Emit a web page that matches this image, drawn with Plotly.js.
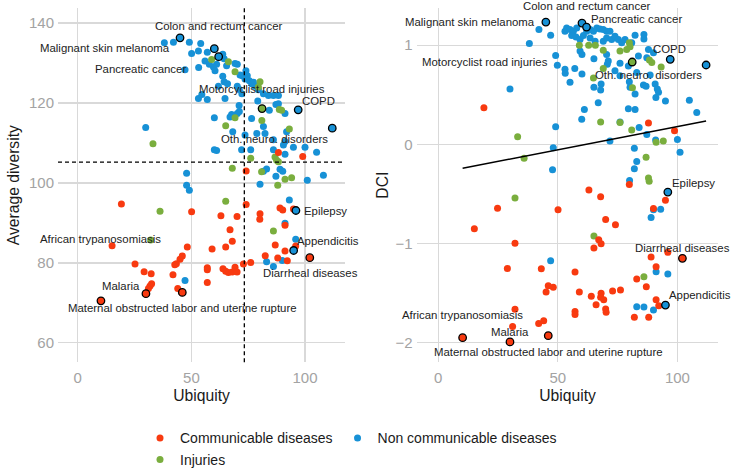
<!DOCTYPE html>
<html>
<head>
<meta charset="utf-8">
<script src="https://cdn.plot.ly/plotly-3.0.1.min.js"></script>
<style>
html,body{margin:0;padding:0;background:#fff;}
#chart{width:733px;height:476px;}
</style>
</head>
<body>
<div id="chart"></div>
<script>
// ---------------- DATA ----------------
// Left panel: Ubiquity vs Average diversity
const commUbiqDiv = [88.3,99.0,74.1,19.2,50.1,74.1,63.0,70.1,80.2,80.1,89.0,90.2,94.9,91.2,67.0,68.0,15.1,95.9,86.9,91.2,48.2,46.0,45.0,43.4,42.7,59.1,65.1,25.2,29.2,32.3,32.5,31.8,31.1,41.9,44.0,57.0,57.0,57.0,63.9,65.1,66.3,68.0,69.2,70.1,72.9,76.1,82.5,88.0,92.2];
const commDiv = [107.6,106.6,103.0,94.7,92.8,94.6,91.8,91.6,92.3,90.9,93.7,93.2,93.5,89.4,88.3,85.4,84.3,84.2,84.5,83.0,84.0,81.7,80.9,79.8,79.5,83.5,84.0,79.7,77.8,77.3,74.8,74.2,73.6,77.0,73.6,78.8,78.3,75.1,78.5,77.9,77.6,77.7,78.9,77.7,79.7,80.1,81.8,81.2,80.5];

const injUbiqDiv = [58.9,66.3,69.2,80.2,79.5,69.2,65.1,81.0,88.7,89.7,93.1,33.1,76.1,86.8,87.5,88.3,68.0,80.9,88.0,91.2,94.1,36.2,65.1,86.1,32.1];
const injDiv = [130.9,130.3,127.8,125.3,124.0,116.3,114.3,115.6,118.4,118.2,113.5,109.8,106.2,106.5,105.7,105.3,103.7,102.8,99.4,100.9,101.3,92.9,95.4,88.0,85.7];

const ncdUbiqDiv = [38.1,42.1,49.1,54.1,50.1,53.1,57.0,47.2,53.2,56.0,57.9,59.7,60.4,61.1,63.8,64.4,69.2,70.2,63.8,64.4,65.9,71.4,74.0,74.6,75.5,76.5,78.0,61.9,70.2,71.1,81.7,83.9,86.1,88.3,53.1,57.0,54.6,79.2,84.3,87.2,91.2,71.0,71.1,70.2,67.7,67.0,60.1,76.5,68.2,73.6,81.7,82.4,78.8,91.9,91.2,90.5,86.1,29.9,60.1,61.1,72.1,76.1,86.1,91.2,94.9,100.0,105.1,83.1,89.0,90.2,87.2,81.7,47.9,47.9,49.1,80.2,101.0,108.1,93.1,91.2,95.9,47.2,83.1,90.0,86.1,72.4,73.6,77.3,79.5,72.2,64.8,88.3,65.5];
const ncdDiv = [135.1,135.2,135.2,134.9,132.4,133.0,132.7,128.3,128.9,130.5,129.7,129.0,128.1,129.7,132.2,131.1,129.9,129.7,126.7,125.3,124.8,127.0,128.1,126.8,125.6,124.8,124.2,124.2,124.2,123.4,122.3,121.9,121.9,121.9,121.1,120.9,122.1,120.5,118.2,119.6,117.4,119.4,117.9,117.4,117.1,116.5,116.3,116.1,112.8,112.0,114.1,112.4,112.4,112.8,110.4,109.5,110.8,113.9,108.3,108.1,108.3,108.3,108.3,107.2,108.9,108.9,107.7,103.5,103.4,102.9,101.7,102.9,102.4,99.4,98.2,99.7,100.7,101.9,95.7,89.9,85.9,75.6,80.3,80.6,79.1,126.8,126.0,125.2,123.3,122.3,121.1,119.8,129.3];

// Right panel: Ubiquity vs DCI
const commUbiqDci = [19.1,87.9,98.8,79.9,63.0,67.9,95.0,90.0,24.8,50.1,15.1,70.0,74.1,32.1,67.1,68.1,65.1,96.0,89.0,28.9,43.1,57.2,91.1,83.0,87.0,46.0,48.1,45.1,59.0,64.0,68.1,67.9,69.2,72.9,76.2,66.0,70.0,70.2,91.1,92.2,32.1,57.2,57.2,42.0,44.1,31.1,82.0,88.0];
const commDci = [0.369,0.216,0.136,-0.406,-0.462,-0.529,-0.565,-0.648,-0.645,-0.661,-0.851,-0.758,-0.811,-0.997,-0.964,-1.004,-1.047,-1.090,-1.137,-1.253,-1.256,-1.289,-1.236,-1.359,-1.436,-1.426,-1.442,-1.489,-1.489,-1.532,-1.502,-1.542,-1.569,-1.479,-1.469,-1.619,-1.662,-1.695,-1.569,-1.628,-1.665,-1.688,-1.718,-1.808,-1.781,-1.838,-1.745,-1.745];

const injUbiqDci = [59.0,62.9,65.7,69.0,76.0,78.8,79.9,80.2,88.3,89.3,93.2,64.9,69.0,81.2,67.9,76.0,80.9,33.2,91.1,94.1,35.9,86.9,87.9,88.2,32.1,65.1,86.0];
const injDci = [1.000,1.000,1.000,0.950,0.940,0.957,1.024,0.983,0.851,0.824,0.781,0.668,0.764,0.571,0.226,0.219,0.143,0.076,0.020,0.033,-0.140,-0.130,-0.339,-0.372,-0.542,-0.924,-1.336];

const ncdUbiqDci = [42.1,47.0,38.1,53.0,53.7,55.1,56.5,57.9,62.1,63.5,64.9,66.3,67.6,69.0,70.4,71.8,55.8,57.6,59.3,60.7,63.5,65.6,69.0,70.4,72.5,73.9,75.3,76.7,78.1,80.9,82.3,86.0,86.0,59.3,60.1,65.1,70.4,71.1,70.7,76.0,73.9,79.5,87.9,90.0,87.2,49.1,49.8,53.0,53.1,57.1,60.1,55.1,65.1,68.1,67.9,66.9,61.1,60.0,76.0,79.9,80.2,82.3,85.8,88.6,90.7,91.6,92.1,91.0,95.0,105.0,108.1,30.0,79.5,82.3,76.0,49.1,84.0,87.2,71.8,90.9,100.0,101.1,48.1,82.0,83.0,82.0,47.8,80.0,90.0,93.0,89.0,47.0,91.1,96.0,83.0,86.0,90.0,83.0,83.7,86.9];
const ncdDci = [1.157,1.100,1.017,1.140,1.173,1.157,1.140,1.173,1.140,1.157,1.140,1.173,1.163,1.157,1.140,1.140,1.097,1.083,1.057,1.097,1.073,1.040,1.040,1.073,1.057,1.090,1.057,1.024,1.057,1.024,1.100,1.107,1.063,0.940,0.907,0.864,0.907,0.841,0.808,0.817,0.741,0.791,0.957,0.924,0.874,0.897,0.797,0.757,0.717,0.764,0.708,0.625,0.575,0.608,0.548,0.418,0.352,0.253,0.691,0.631,0.575,0.508,0.598,0.698,0.608,0.558,0.525,0.472,0.438,0.445,0.322,0.558,0.359,0.352,0.226,0.176,0.170,0.100,0.033,0.043,0.049,-0.080,-0.034,-0.040,-0.173,-0.246,-0.256,-0.366,-0.661,-0.655,-0.738,-1.176,-1.286,-1.309,-1.638,-1.642,-1.672,0.725,0.890,0.585];

// Highlighted (labelled) diseases
const labelNames = ["Colon and rectum cancer","Malignant skin melanoma","Pancreatic cancer","Motorcyclist road injuries","COPD","Oth. neuro. disorders","Epilepsy","Appendicitis","Diarrheal diseases","Malaria","Maternal obstructed labor and uterine rupture","African trypanosomiasis"];
const labelGroups = ["ncd","ncd","ncd","inj","ncd","ncd","ncd","ncd","comm","comm","comm","comm"];
const labelUbiq = [60.1,45.0,62.0,81.1,97.0,112.0,96.0,95.0,102.1,30.0,46.0,10.2];
const labelDiv = [133.6,136.3,131.6,118.6,118.3,113.7,93.1,83.1,81.3,72.3,72.6,70.5];
const labelDci = [1.223,1.233,1.183,0.830,0.857,0.800,-0.482,-1.622,-1.150,-1.994,-1.931,-1.951];

// Reference lines
const ubiqThreshold = 73.3;
const divThreshold = 105.2;
const trendX = [10.2, 112.0];
const trendY = [-0.242, 0.236];

// Tick values
const xTicks = [0, 50, 100];
const divTicks = [60, 80, 100, 120, 140];
const dciTicks = [-2, -1, 0, 1];

// ---------------- STYLE / LAYOUT ----------------
const colors = {comm: "#f83a10", ncd: "#1791d6", inj: "#7aae3e"};
const groupLabel = {comm: "Communicable diseases", ncd: "Non communicable diseases", inj: "Injuries"};
const FONT = "'Liberation Sans', Arial, Helvetica, sans-serif";
const MS = 7;

const divRange = [55.1, 143.8];
const dciRange = [-2.2, 1.376];

// label text positions (data coordinates of each panel) [x, y, extra pixel shift up]
const labelPosDiv = {
  "Colon and rectum cancer": [62.0, 139.2, 0],
  "Malignant skin melanoma": [12.2, 133.8, 0],
  "Pancreatic cancer": [27.8, 128.5, 0],
  "Motorcyclist road injuries": [81.1, 123.4, 0],
  "COPD": [106.0, 120.6, 0],
  "Oth. neuro. disorders": [86.7, 111.0, 0],
  "Epilepsy": [108.8, 92.9, 0],
  "Appendicitis": [110.3, 85.5, 0],
  "African trypanosomiasis": [10.1, 86.0, 0],
  "Diarrheal diseases": [102.2, 77.4, 0],
  "Malaria": [19.2, 74.1, 0],
  "Maternal obstructed labor and uterine rupture": [46.2, 68.8, 0]
};
const labelPosDci = {
  "Colon and rectum cancer": [62.1, 1.36, 3.5],
  "Pancreatic cancer": [82.7, 1.262, 0],
  "Malignant skin melanoma": [13.1, 1.229, 0],
  "COPD": [96.9, 0.964, 0],
  "Motorcyclist road injuries": [19.7, 0.831, 0],
  "Oth. neuro. disorders": [88.0, 0.698, 0],
  "Epilepsy": [106.6, -0.389, 0],
  "Diarrheal diseases": [102.0, -1.044, 0],
  "Appendicitis": [109.4, -1.525, 0],
  "African trypanosomiasis": [10.0, -1.725, 0],
  "Malaria": [30.1, -1.891, 0],
  "Maternal obstructed labor and uterine rupture": [46.2, -2.091, 0]
};

function pts(x, y, key, xa, ya, showLeg, legendName, rank) {
  return {
    type: "scatter", mode: "markers", x: x, y: y,
    xaxis: xa, yaxis: ya,
    name: groupLabel[key], legendgroup: key,
    showlegend: showLeg, legend: legendName, legendrank: rank,
    marker: {color: colors[key], size: MS},
    hoverinfo: "x+y"
  };
}

const traces = [
  pts(ncdUbiqDiv, ncdDiv, "ncd", "x", "y", true, "legend", 2),
  pts(injUbiqDiv, injDiv, "inj", "x", "y", true, "legend2", 3),
  pts(commUbiqDiv, commDiv, "comm", "x", "y", true, "legend", 1),
  pts(ncdUbiqDci, ncdDci, "ncd", "x2", "y2", false, "legend", 2),
  pts(injUbiqDci, injDci, "inj", "x2", "y2", false, "legend2", 3),
  pts(commUbiqDci, commDci, "comm", "x2", "y2", false, "legend", 1),
  {
    type: "scatter", mode: "lines", x: trendX, y: trendY, xaxis: "x2", yaxis: "y2",
    line: {color: "#000", width: 1.5}, showlegend: false, hoverinfo: "skip"
  },
  {
    type: "scatter", mode: "markers", x: labelUbiq, y: labelDiv, xaxis: "x", yaxis: "y",
    text: labelNames, showlegend: false,
    marker: {color: labelGroups.map(g => colors[g]), size: MS + 0.5, line: {color: "#000", width: 1.3}}
  },
  {
    type: "scatter", mode: "markers", x: labelUbiq, y: labelDci, xaxis: "x2", yaxis: "y2",
    text: labelNames, showlegend: false,
    marker: {color: labelGroups.map(g => colors[g]), size: MS + 0.5, line: {color: "#000", width: 1.3}}
  }
];

const annotations = [];
labelNames.forEach(n => {
  const a = labelPosDiv[n], b = labelPosDci[n];
  annotations.push({xref: "x", yref: "y", x: a[0], y: a[1], yshift: a[2], text: n, showarrow: false,
    font: {family: FONT, size: 11.4, color: "#222"}, xanchor: "center", yanchor: "middle", borderpad: 0});
  annotations.push({xref: "x2", yref: "y2", x: b[0], y: b[1], yshift: b[2], text: n, showarrow: false,
    font: {family: FONT, size: 11.4, color: "#222"}, xanchor: "center", yanchor: "middle", borderpad: 0});
});

const gridC = "#d9d9d9";
const tickF = {family: FONT, size: 15, color: "#a3a3a3"};
const titleF = {family: FONT, size: 15.7, color: "#1a1a1a"};

function axis(extra) {
  return Object.assign({
    showgrid: true, gridcolor: gridC, gridwidth: 1.3, zeroline: false, showline: false,
    ticks: "", tickfont: tickF, tickmode: "array", automargin: false
  }, extra);
}

const layout = {
  width: 733, height: 476,
  margin: {l: 0, r: 0, t: 0, b: 0},
  paper_bgcolor: "#fff", plot_bgcolor: "#fff",
  font: {family: FONT},
  xaxis: axis({domain: [58/733, 345/733], range: [-8.7, 117.6], tickvals: xTicks, anchor: "y",
    ticklabelstandoff: 5, title: {text: "Ubiquity", font: titleF, standoff: 4}}),
  yaxis: axis({domain: [(476-367)/476, (476-8)/476], range: divRange, tickvals: divTicks, anchor: "x",
    ticklabelstandoff: 3, title: {text: "Average diversity", font: titleF, standoff: 5}}),
  xaxis2: axis({domain: [416.7/733, 718.3/733], range: [-9.0, 117.1], tickvals: xTicks, anchor: "y2",
    ticklabelstandoff: 5, title: {text: "Ubiquity", font: titleF, standoff: 4}}),
  yaxis2: axis({domain: [(476-367)/476, (476-8)/476], range: dciRange, tickvals: dciTicks, anchor: "x2",
    ticklabelstandoff: 3, title: {text: "DCI", font: titleF, standoff: 3}}),
  shapes: [
    {type: "line", xref: "x", yref: "y domain", x0: ubiqThreshold, x1: ubiqThreshold, y0: 0, y1: 1,
     line: {color: "#000", width: 1.3, dash: "4px,3px"}},
    {type: "line", xref: "x domain", yref: "y", x0: 0, x1: 1, y0: divThreshold, y1: divThreshold,
     line: {color: "#000", width: 1.3, dash: "4px,3px"}}
  ],
  annotations: annotations,
  legend: {orientation: "h", x: 140/733, y: 1 - 444/476, xanchor: "left", yanchor: "middle",
    font: {family: FONT, size: 14, color: "#1a1a1a"}, bgcolor: "rgba(0,0,0,0)", traceorder: "normal"},
  legend2: {orientation: "h", x: 140/733, y: 1 - 466/476, xanchor: "left", yanchor: "middle",
    font: {family: FONT, size: 14, color: "#1a1a1a"}, bgcolor: "rgba(0,0,0,0)"},
  showlegend: true
};

Plotly.newPlot("chart", traces, layout, {displayModeBar: false, staticPlot: true});
</script>
</body>
</html>
